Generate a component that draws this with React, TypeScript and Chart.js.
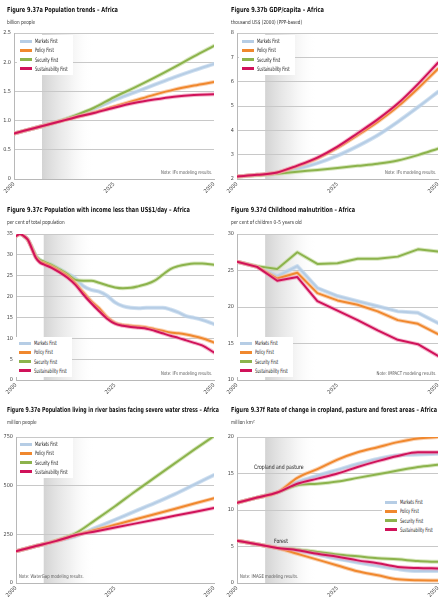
import React, { useEffect, useRef } from "react";
import { Chart, registerables } from "chart.js";
Chart.register(...registerables);

// ---------- DATA ----------
const SERIES = ["Markets First", "Policy First", "Security First", "Sustainability First"];
const YEARS = [2000, 2005, 2010, 2015, 2020, 2025, 2030, 2035, 2040, 2045, 2050];
const X_TICKS = [2000, 2025, 2050];

// a: population, billion
const POP_MARKETS = [0.78, 0.87, 0.96, 1.07, 1.2, 1.35, 1.48, 1.61, 1.74, 1.86, 1.97];
const POP_POLICY = [0.78, 0.87, 0.96, 1.05, 1.14, 1.24, 1.34, 1.44, 1.53, 1.6, 1.66];
const POP_SECURITY = [0.78, 0.87, 0.96, 1.08, 1.22, 1.4, 1.56, 1.73, 1.91, 2.1, 2.28];
const POP_SUSTAIN = [0.78, 0.87, 0.96, 1.05, 1.13, 1.22, 1.3, 1.36, 1.41, 1.44, 1.45];
const POP_YTICKS = [0, 0.5, 1.0, 1.5, 2.0, 2.5];

// b: GDP per capita
const GDP_MARKETS = [2.1, 2.17, 2.25, 2.42, 2.65, 2.96, 3.35, 3.8, 4.35, 4.95, 5.58];
const GDP_POLICY = [2.1, 2.17, 2.27, 2.53, 2.85, 3.28, 3.8, 4.35, 4.98, 5.72, 6.53];
const GDP_SECURITY = [2.1, 2.15, 2.22, 2.3, 2.37, 2.45, 2.54, 2.63, 2.76, 2.98, 3.25];
const GDP_SUSTAIN = [2.1, 2.17, 2.27, 2.55, 2.88, 3.33, 3.88, 4.45, 5.1, 5.9, 6.78];
const GDP_YTICKS = [2, 3, 4, 5, 6, 7, 8];

// c: poverty share, per cent
const POV_YEARS = [2000, 2001, 2002, 2003, 2004, 2005, 2006, 2007, 2009, 2011, 2013, 2015, 2017, 2019, 2021, 2023, 2025, 2027, 2029, 2031, 2033, 2035, 2037, 2039, 2041, 2043, 2045, 2047, 2050];
const POV_MARKETS = [34.5, 35.0, 34.5, 33.6, 31.8, 29.8, 28.8, 28.4, 27.6, 26.6, 25.5, 24.4, 22.5, 21.6, 21.2, 20.2, 18.6, 17.7, 17.3, 17.2, 17.3, 17.3, 17.3, 16.9, 16.2, 15.3, 14.9, 14.4, 13.4];
const POV_POLICY = [34.5, 35.0, 34.5, 33.6, 31.6, 29.5, 28.4, 28.0, 27.2, 26.1, 24.9, 23.2, 21.0, 18.9, 17.2, 15.1, 13.7, 13.2, 13.0, 12.8, 12.6, 12.2, 11.8, 11.4, 11.2, 10.9, 10.5, 10.0, 9.0];
const POV_SECURITY = [34.5, 35.0, 34.5, 33.6, 31.8, 29.8, 28.8, 28.4, 27.6, 26.5, 25.4, 24.0, 23.8, 23.8, 23.3, 22.7, 22.2, 22.0, 22.1, 22.5, 23.0, 23.8, 25.2, 26.6, 27.3, 27.7, 27.9, 27.9, 27.6];
const POV_SUSTAIN = [34.5, 35.0, 34.5, 33.6, 31.5, 29.3, 28.2, 27.7, 26.9, 25.8, 24.5, 22.8, 20.5, 18.4, 16.5, 14.7, 13.5, 13.0, 12.7, 12.5, 12.3, 11.8, 11.2, 10.6, 10.1, 9.5, 8.9, 8.3, 6.6];
const POV_YTICKS = [0, 5, 10, 15, 20, 25, 30, 35];

// d: childhood malnutrition, per cent
const MAL_MARKETS = [26.2, 25.5, 24.2, 25.6, 22.6, 21.5, 20.8, 20.1, 19.4, 19.2, 17.8];
const MAL_POLICY = [26.2, 25.5, 23.9, 24.7, 21.9, 20.9, 20.3, 19.4, 18.2, 17.7, 16.3];
const MAL_SECURITY = [26.2, 25.6, 25.2, 27.5, 25.9, 26.0, 26.6, 26.6, 26.9, 27.9, 27.6];
const MAL_SUSTAIN = [26.2, 25.5, 23.6, 24.1, 20.8, 19.5, 18.2, 16.8, 15.5, 14.9, 13.3];
const MAL_YTICKS = [10, 15, 20, 25, 30];

// e: water stress, million people
const WAT_MARKETS = [163, 190, 215, 240, 283, 325, 368, 410, 455, 505, 555];
const WAT_POLICY = [163, 190, 215, 245, 272, 299, 326, 353, 380, 408, 435];
const WAT_SECURITY = [163, 190, 218, 255, 323, 394, 469, 541, 613, 685, 755];
const WAT_SUSTAIN = [163, 190, 215, 245, 265, 285, 305, 325, 345, 365, 385];
const WAT_YTICKS = [0, 250, 500, 750];

// f: land areas, million km2
const CROP_MARKETS = [11.0, 11.7, 12.4, 13.8, 14.7, 15.5, 16.3, 17.0, 17.5, 17.6, 17.7];
const CROP_POLICY = [11.0, 11.7, 12.4, 14.4, 15.6, 16.9, 17.9, 18.6, 19.3, 19.8, 20.0];
const CROP_SECURITY = [11.0, 11.7, 12.4, 13.4, 13.6, 13.9, 14.4, 14.9, 15.4, 15.9, 16.2];
const CROP_SUSTAIN = [11.0, 11.7, 12.4, 13.6, 14.3, 15.0, 15.9, 16.7, 17.4, 17.9, 17.9];
const FOREST_MARKETS = [5.8, 5.3, 4.8, 4.4, 3.9, 3.3, 2.8, 2.35, 1.9, 1.65, 1.65];
const FOREST_POLICY = [5.8, 5.3, 4.8, 4.0, 3.2, 2.4, 1.6, 1.05, 0.5, 0.37, 0.35];
const FOREST_SECURITY = [5.8, 5.3, 4.8, 4.6, 4.25, 3.9, 3.65, 3.4, 3.25, 3.0, 2.9];
const FOREST_SUSTAIN = [5.8, 5.3, 4.8, 4.5, 4.0, 3.6, 3.1, 2.7, 2.2, 2.05, 2.0];
const LAND_YTICKS = [0, 5, 10, 15, 20];

const SHADE_FROM = 2007;
const SHADE_TO = 2020;

// ---------- STYLE ----------
const FONT = "'Liberation Sans Narrow', 'DejaVu Sans Condensed', 'Arial Narrow', sans-serif";
const CORE = ["#b6cde5", "#f0882e", "#8cb34c", "#d0125a"];
const HALO = ["rgba(190,212,235,0.75)", "rgba(248,188,140,0.65)", "rgba(196,220,160,0.65)", "rgba(238,140,175,0.6)"];
const DRAW_RANK = [3, 1, 2, 0]; // 0 = on top

type Area = { l: number; r: number; t: number; b: number };
type PanelDef = {
  key: string;
  col: number;
  row: number;
  title: string;
  titleW: number;
  unit: string;
  note: string;
  noteRight: boolean;
  years: number[];
  groups: number[][][];
  yTicks: number[];
  yFmt: (v: number) => string;
  area: Area;
  smooth: boolean;
  legend: { x: number; y: number };
  extras?: { text: string; x: number; y: number }[];
};

const PANELS: PanelDef[] = [
  {
    key: "a", col: 0, row: 0,
    title: "Figure 9.37a Population trends – Africa", titleW: 111,
    unit: "billion people",
    note: "Note: IFs modeling results.", noteRight: true,
    years: YEARS,
    groups: [[POP_MARKETS, POP_POLICY, POP_SECURITY, POP_SUSTAIN]],
    yTicks: POP_YTICKS, yFmt: (v) => (v === 0 ? "0" : v.toFixed(1)),
    area: { l: 14, r: 214, t: 33, b: 179 }, smooth: true,
    legend: { x: 17, y: 35 },
  },
  {
    key: "b", col: 1, row: 0,
    title: "Figure 9.37b GDP/capita – Africa", titleW: 93,
    unit: "thousand US$ (2000) (PPP-based)",
    note: "Note: IFs modeling results.", noteRight: true,
    years: YEARS,
    groups: [[GDP_MARKETS, GDP_POLICY, GDP_SECURITY, GDP_SUSTAIN]],
    yTicks: GDP_YTICKS, yFmt: (v) => String(v),
    area: { l: 13, r: 214, t: 33, b: 179 }, smooth: true,
    legend: { x: 15, y: 35 },
  },
  {
    key: "c", col: 0, row: 1,
    title: "Figure 9.37c Population with income less than US$1/day – Africa", titleW: 183,
    unit: "per cent of total population",
    note: "Note: IFs modeling results.", noteRight: true,
    years: POV_YEARS,
    groups: [[POV_MARKETS, POV_POLICY, POV_SECURITY, POV_SUSTAIN]],
    yTicks: POV_YTICKS, yFmt: (v) => String(v),
    area: { l: 16, r: 214, t: 34, b: 180 }, smooth: true,
    legend: { x: 16, y: 137 },
  },
  {
    key: "d", col: 1, row: 1,
    title: "Figure 9.37d Childhood malnutrition – Africa", titleW: 124,
    unit: "per cent of children 0–5 years old",
    note: "Note: IMPACT modeling results.", noteRight: true,
    years: YEARS,
    groups: [[MAL_MARKETS, MAL_POLICY, MAL_SECURITY, MAL_SUSTAIN]],
    yTicks: MAL_YTICKS, yFmt: (v) => String(v),
    area: { l: 13, r: 214, t: 34, b: 180 }, smooth: false,
    legend: { x: 13, y: 137 },
  },
  {
    key: "e", col: 0, row: 2,
    title: "Figure 9.37e Population living in river basins facing severe water stress – Africa", titleW: 212,
    unit: "million people",
    note: "Note: WaterGap modeling results.", noteRight: false,
    years: YEARS,
    groups: [[WAT_MARKETS, WAT_POLICY, WAT_SECURITY, WAT_SUSTAIN]],
    yTicks: WAT_YTICKS, yFmt: (v) => String(v),
    area: { l: 16, r: 214, t: 37, b: 183 }, smooth: true,
    legend: { x: 17, y: 38 },
  },
  {
    key: "f", col: 1, row: 2,
    title: "Figure 9.37f Rate of change in cropland, pasture and forest areas – Africa", titleW: 206,
    unit: "million km²",
    note: "Note: IMAGE modeling results.", noteRight: false,
    years: YEARS,
    groups: [
      [CROP_MARKETS, CROP_POLICY, CROP_SECURITY, CROP_SUSTAIN],
      [FOREST_MARKETS, FOREST_POLICY, FOREST_SECURITY, FOREST_SUSTAIN],
    ],
    yTicks: LAND_YTICKS, yFmt: (v) => String(v),
    area: { l: 13, r: 214, t: 37, b: 183 }, smooth: true,
    legend: { x: 158, y: 96 },
    extras: [
      { text: "Cropland and pasture", x: 30, y: 64 },
      { text: "Forest", x: 50, y: 138 },
    ],
  },
];

const CELL_W = [224, 223];
const CELL_H = 200;

let measureCtx: CanvasRenderingContext2D | null = null;
function fitScale(text: string, font: string, target: number, fallback: number) {
  if (typeof document === "undefined") return fallback;
  if (!measureCtx) measureCtx = document.createElement("canvas").getContext("2d");
  if (!measureCtx) return fallback;
  measureCtx.font = font;
  const w = measureCtx.measureText(text).width;
  return w > 0 ? Math.min(1, target / w) : fallback;
}

const shadePlugin = {
  id: "shade",
  beforeDraw(chart: any) {
    const { ctx, chartArea, scales } = chart;
    ctx.save();
    ctx.fillStyle = "#ffffff";
    ctx.fillRect(0, 0, chart.width, chart.height);
    const x0 = scales.x.getPixelForValue(SHADE_FROM);
    const x1 = scales.x.getPixelForValue(SHADE_TO);
    const g = ctx.createLinearGradient(x0, 0, x1, 0);
    g.addColorStop(0, "rgba(200,200,200,0.8)");
    g.addColorStop(0.5, "rgba(225,225,225,0.5)");
    g.addColorStop(1, "rgba(255,255,255,0)");
    ctx.fillStyle = g;
    ctx.fillRect(x0, chartArea.top, x1 - x0, chartArea.bottom - chartArea.top);
    ctx.restore();
  },
};

function Txt(props: { x: number; y: number; size: number; sx: number; bold?: boolean; color: string; right?: boolean; children: React.ReactNode }) {
  const st: React.CSSProperties = {
    position: "absolute",
    top: props.y,
    fontFamily: FONT,
    fontSize: props.size,
    fontWeight: props.bold ? "bold" : "normal",
    color: props.color,
    lineHeight: 1,
    whiteSpace: "nowrap",
    transform: `scaleX(${props.sx})`,
    transformOrigin: props.right ? "right top" : "left top",
  };
  if (props.right) st.right = props.x;
  else st.left = props.x;
  return <div style={st}>{props.children}</div>;
}

function Panel({ p }: { p: PanelDef }) {
  const ref = useRef<HTMLCanvasElement | null>(null);
  const W = CELL_W[p.col];
  const H = CELL_H;
  useEffect(() => {
    if (!ref.current) return;
    const datasets: any[] = [];
    p.groups.forEach((group, gi) => {
      group.forEach((vals, si) => {
        const data = vals.map((v, i) => ({ x: p.years[i], y: v }));
        const common = {
          data,
          pointRadius: 0,
          fill: false,
          cubicInterpolationMode: p.smooth ? "monotone" : "default",
          tension: 0,
          borderCapStyle: "round",
          borderJoinStyle: "round",
        };
        datasets.push({ ...common, label: SERIES[si] + " halo " + gi, borderColor: HALO[si], borderWidth: 4, order: DRAW_RANK[si] * 2 + 1 });
        datasets.push({ ...common, label: SERIES[si] + " " + gi, borderColor: CORE[si], borderWidth: 2, order: DRAW_RANK[si] * 2 });
      });
    });
    const a = p.area;
    const tickFont = { family: FONT, size: 5.5 };
    const chart = new Chart(ref.current, {
      type: "line",
      data: { datasets },
      options: {
        animation: false,
        responsive: false,
        maintainAspectRatio: false,
        layout: { padding: { top: a.t, right: W - a.r, left: 0, bottom: 0 } },
        plugins: { legend: { display: false }, tooltip: { enabled: false }, title: { display: false } },
        scales: {
          x: {
            type: "linear",
            min: 2000,
            max: 2050,
            afterBuildTicks: (s: any) => { s.ticks = X_TICKS.map((v) => ({ value: v })); },
            afterFit: (s: any) => { s.height = H - a.b; },
            ticks: { minRotation: 45, maxRotation: 45, autoSkip: false, font: tickFont, color: "#444", padding: 2, callback: (v: any) => String(v) },
            grid: { display: false, drawTicks: false },
            border: { display: true, color: "#b8b8b8", width: 1 },
          },
          y: {
            min: p.yTicks[0],
            max: p.yTicks[p.yTicks.length - 1],
            afterBuildTicks: (s: any) => { s.ticks = p.yTicks.map((v) => ({ value: v })); },
            afterFit: (s: any) => { s.width = a.l; },
            ticks: { font: tickFont, color: "#444", padding: 3, callback: (v: any) => p.yFmt(Number(v)) },
            grid: { color: "#c8c8c8", drawTicks: false, lineWidth: 1 },
            border: { display: true, color: "#b8b8b8", width: 1 },
          },
        },
      } as any,
      plugins: [shadePlugin],
    });
    return () => chart.destroy();
  }, []);

  const lg = p.legend;
  const titleSx = fitScale(p.title, `bold 7px ${FONT}`, p.titleW, 0.8);
  return (
    <div style={{ position: "absolute", left: p.col * 224, top: p.row * 200, width: W, height: H }}>
      <canvas ref={ref} width={W} height={H} style={{ position: "absolute", left: 0, top: 0, width: W, height: H }} />
      <Txt x={7} y={6.5} size={7} sx={titleSx} bold color="#111">{p.title}</Txt>
      <Txt x={7} y={19.5} size={5.5} sx={0.85} color="#333">{p.unit}</Txt>
      <div style={{ position: "absolute", left: lg.x, top: lg.y, width: 56, height: 40, background: "#fff" }}>
        {SERIES.map((s, i) => (
          <React.Fragment key={s}>
            <div style={{ position: "absolute", left: 3, top: 4.5 + i * 9.3, width: 12, height: 3, background: CORE[i] }} />
            <Txt x={18} y={3 + i * 9.3} size={6} sx={0.66} color="#222">{s}</Txt>
          </React.Fragment>
        ))}
      </div>
      {(p.extras || []).map((e) => (
        <Txt key={e.text} x={e.x} y={e.y} size={6} sx={0.85} color="#222">{e.text}</Txt>
      ))}
      {p.noteRight ? (
        <Txt x={W - p.area.r + 2} y={p.area.b - 9} size={5} sx={0.85} color="#555" right>{p.note}</Txt>
      ) : (
        <Txt x={p.area.l + 3} y={p.area.b - 9} size={5} sx={0.85} color="#555">{p.note}</Txt>
      )}
    </div>
  );
}

export default function App() {
  return (
    <div style={{ position: "absolute", left: 0, top: 0, width: 447, height: 600, background: "#fff", overflow: "hidden" }}>
      {PANELS.map((p) => (
        <Panel key={p.key} p={p} />
      ))}
    </div>
  );
}
